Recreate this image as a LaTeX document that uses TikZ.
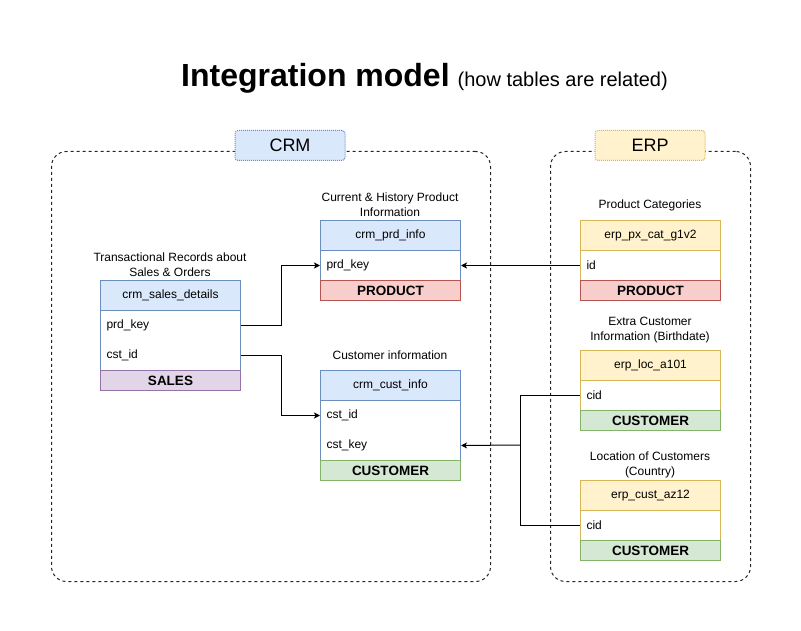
\documentclass[tikz,border=0pt]{standalone}
\usepackage{fontspec}
\setmainfont{Liberation Sans}
\usetikzlibrary{arrows.meta}

\definecolor{blueFill}{HTML}{DAE8FC}
\definecolor{blueLine}{HTML}{6C8EBF}
\definecolor{yellowFill}{HTML}{FFF2CC}
\definecolor{yellowLine}{HTML}{D6B656}
\definecolor{redFill}{HTML}{F8CECC}
\definecolor{redLine}{HTML}{B85450}
\definecolor{greenFill}{HTML}{D5E8D4}
\definecolor{greenLine}{HTML}{82B366}
\definecolor{purpleFill}{HTML}{E1D5E7}
\definecolor{purpleLine}{HTML}{9673A6}

\begin{document}
\begin{tikzpicture}[x=1pt,y=-1pt,line width=1pt,
  container/.style={draw=black!85, dash pattern=on 3pt off 3pt, rounded corners=15pt,
    anchor=north west, inner sep=0pt},
  grouptag/.style={dash pattern=on 1pt off 1pt, rounded corners=3pt, minimum width=110pt,
    minimum height=30pt, inner sep=0pt, font=\fontsize{18}{21}\selectfont},
  hdr/.style={minimum width=140pt, minimum height=30pt, anchor=north west, inner sep=0pt,
    font=\fontsize{12}{14}\selectfont},
  crmhdr/.style={hdr, fill=blueFill, draw=blueLine},
  erphdr/.style={hdr, fill=yellowFill, draw=yellowLine},
  tbody/.style={fill=white, minimum width=140pt, anchor=north west, inner sep=0pt},
  rowtxt/.style={minimum height=30pt, text width=128pt, inner xsep=6pt, inner ysep=0pt,
    align=left, anchor=north west, font=\fontsize{12}{14}\selectfont},
  foot/.style={minimum width=140pt, minimum height=20pt, anchor=north west, inner sep=0pt,
    font=\fontsize{13.5}{16}\selectfont\bfseries},
  salesfoot/.style={foot, fill=purpleFill, draw=purpleLine},
  prodfoot/.style={foot, fill=redFill, draw=redLine},
  custfoot/.style={foot, fill=greenFill, draw=greenLine},
  caption/.style={align=center, inner sep=0pt, font=\fontsize{12}{15}\selectfont},
  link/.style={draw=black, line width=1pt},
  arr/.style={link, -{Stealth[length=6pt,width=6pt,inset=1.5pt]}}
]
\useasboundingbox (0,0) rectangle (801,631);

% title
\node[anchor=base, inner sep=0pt] (title) at (424.5,86.5)
  {{\fontsize{32}{38}\selectfont\bfseries Integration model}\hspace{8pt}{\fontsize{20}{24}\selectfont(how tables are related)}};

% source system containers
\node[container, minimum width=439pt, minimum height=430pt] (crm-box) at (51,151) {};
\node[container, minimum width=200pt, minimum height=430pt] (erp-box) at (550,151) {};
\node[grouptag, fill=blueFill, draw=blueLine] (crm-tag) at (290,145.5) {CRM};
\node[grouptag, fill=yellowFill, draw=yellowLine] (erp-tag) at (650,145.5) {ERP};

% crm_sales_details
\node[caption] (sales-cap) at (170,265) {Transactional Records about\\Sales \& Orders};
\node[crmhdr] (sales-hdr) at (100,280) {crm\_sales\_details};
\node[tbody, draw=blueLine, minimum height=60pt] (sales-body) at (100,310) {};
\node[rowtxt] (sales-prd) at (100,310) {prd\_key};
\node[rowtxt] (sales-cst) at (100,340) {cst\_id};
\node[salesfoot] (sales-foot) at (100,370) {SALES};

% crm_prd_info
\node[caption] (prd-cap) at (390,204.5) {Current \& History Product\\Information};
\node[crmhdr] (prd-hdr) at (320,220) {crm\_prd\_info};
\node[tbody, draw=blueLine, minimum height=30pt] (prd-body) at (320,250) {};
\node[rowtxt] (prd-key) at (320,250) {prd\_key};
\node[prodfoot] (prd-foot) at (320,280) {PRODUCT};

% crm_cust_info
\node[caption] (cust-cap) at (390,355) {Customer information};
\node[crmhdr] (cust-hdr) at (320,370) {crm\_cust\_info};
\node[tbody, draw=blueLine, minimum height=60pt] (cust-body) at (320,400) {};
\node[rowtxt] (cust-id) at (320,400) {cst\_id};
\node[rowtxt] (cust-key) at (320,430) {cst\_key};
\node[custfoot] (cust-foot) at (320,460) {CUSTOMER};

% erp_px_cat_g1v2
\node[caption] (cat-cap) at (650,205) {Product Categories};
\node[erphdr] (cat-hdr) at (580,220) {erp\_px\_cat\_g1v2};
\node[tbody, draw=yellowLine, minimum height=30pt] (cat-body) at (580,250) {};
\node[rowtxt] (cat-id) at (580,250) {id};
\node[prodfoot] (cat-foot) at (580,280) {PRODUCT};

% erp_loc_a101
\node[caption] (loc-cap) at (650,330.5) {Extra Customer\\Information (Birthdate)};
\node[erphdr] (loc-hdr) at (580,350) {erp\_loc\_a101};
\node[tbody, draw=yellowLine, minimum height=30pt] (loc-body) at (580,380) {};
\node[rowtxt] (loc-cid) at (580,380) {cid};
\node[custfoot] (loc-foot) at (580,410) {CUSTOMER};

% erp_cust_az12
\node[caption] (az-cap) at (650,465) {Location of Customers\\(Country)};
\node[erphdr] (az-hdr) at (580,480) {erp\_cust\_az12};
\node[tbody, draw=yellowLine, minimum height=30pt] (az-body) at (580,510) {};
\node[rowtxt] (az-cid) at (580,510) {cid};
\node[custfoot] (az-foot) at (580,540) {CUSTOMER};

% relationships
\draw[arr] (sales-prd.east) -- ++(40,0) |- (prd-key.west);
\draw[arr] (sales-cst.east) -- ++(40,0) |- (cust-id.west);
\draw[arr] (cat-id.west) -- (prd-key.east);
\coordinate (merge) at (520,445);
\draw[link] (loc-cid.west) -| (merge);
\draw[link] (az-cid.west) -| (merge);
\draw[arr] (merge) -- (cust-key.east);
\end{tikzpicture}
\end{document}
